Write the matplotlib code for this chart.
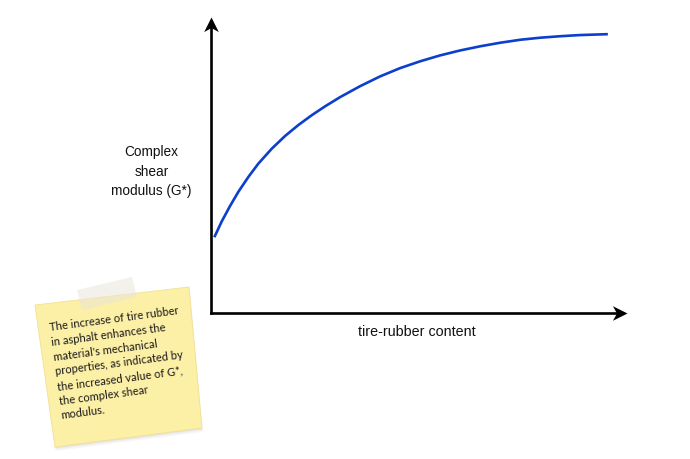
import numpy as np
import matplotlib
matplotlib.use("Agg")
import matplotlib.pyplot as plt
from matplotlib.path import Path
from matplotlib.patches import Polygon

# ---- data (arbitrary units) ----
rubber_content = [0.08, 0.26, 0.46, 0.66, 0.90, 1.14, 1.46, 1.78, 2.10, 2.42,
                  2.74, 3.10, 3.58, 4.06, 4.54, 5.02, 5.50, 5.99, 6.47, 6.95,
                  7.43, 7.91, 8.39, 8.87, 9.54]
shear_modulus = [2.56, 3.10, 3.62, 4.10, 4.60, 5.05, 5.55, 5.98, 6.35, 6.68,
                 6.98, 7.29, 7.66, 7.99, 8.27, 8.50, 8.70, 8.87, 9.01, 9.13,
                 9.23, 9.30, 9.35, 9.39, 9.42]

x_label = "tire-rubber content"
y_label = "Complex\nshear\nmodulus (G*)"
note_text = ("The increase of tire rubber\nin asphalt enhances the\n"
             "material's mechanical\nproperties, as indicated by\n"
             "the increased value of G*,\nthe complex shear\nmodulus.")

W, H = 690, 460
fig = plt.figure(figsize=(W / 100, H / 100), dpi=100)
fig.patch.set_facecolor("white")

# main axes (pixel geometry of the reference)
L, R, B, T = 211, 627, 314, 18
ax = fig.add_axes([L / W, (H - B) / H, (R - L) / W, (B - T) / H])
ax.set_xlim(0, 10)
ax.set_ylim(0, 10)
ax.axis("off")

ax.plot(rubber_content, shear_modulus, color="#0b3fcc", lw=1.9,
        solid_capstyle="butt", solid_joinstyle="round", zorder=3)

# axis lines with arrow heads
lw_axis = 1.9
ax.plot([0, 0], [0, 0.975], transform=ax.transAxes, color="black",
        lw=lw_axis, clip_on=False, solid_capstyle="projecting")
ax.plot([0, 0.98], [0, 0], transform=ax.transAxes, color="black",
        lw=lw_axis, clip_on=False, solid_capstyle="projecting")
up_head = Path([(0, 0), (-0.5, -1), (0, -0.72), (0.5, -1), (0, 0)],
               [Path.MOVETO, Path.LINETO, Path.LINETO, Path.LINETO, Path.CLOSEPOLY])
right_head = Path([(0, 0), (-1, 0.5), (-0.72, 0), (-1, -0.5), (0, 0)],
                  [Path.MOVETO, Path.LINETO, Path.LINETO, Path.LINETO, Path.CLOSEPOLY])
ax.plot([0], [1], marker=up_head, ms=21, color="black", mew=0,
        transform=ax.transAxes, clip_on=False)
ax.plot([1], [0], marker=right_head, ms=21, color="black", mew=0,
        transform=ax.transAxes, clip_on=False)

# labels
fig.text(416.5 / W, 1 - 332 / H, x_label, ha="center", va="center",
         fontsize=10.3, family="Liberation Sans", color="#111111")
fig.text(151.5 / W, 1 - 171.5 / H, y_label, ha="center", va="center",
         fontsize=9.8, family="Liberation Sans", color="#111111",
         multialignment="center", linespacing=1.5)

# sticky note overlay (pixel coordinates)
ov = fig.add_axes([0, 0, 1, 1], zorder=5)
ov.set_xlim(0, W)
ov.set_ylim(H, 0)
ov.axis("off")
ov.patch.set_alpha(0)

note = [(35, 306), (189, 288), (202, 429), (55, 448)]
for dx, dy, a in [(1, 4, 0.05), (0.5, 2.5, 0.07), (0, 1.2, 0.09)]:
    ov.add_patch(Polygon([(x + dx, y + dy) for x, y in note], closed=True,
                         facecolor="#7a7250", edgecolor="none", alpha=a))
ov.add_patch(Polygon(note, closed=True, facecolor="#fcefa6",
                     edgecolor="#f1e296", lw=0.6))
tape = [(77, 291), (132, 278), (137, 298), (82, 311)]
ov.add_patch(Polygon(tape, closed=True, facecolor="#e9e5da",
                     edgecolor="none", alpha=0.5))

ov.text(48.5, 322.5, note_text, rotation=7.5, rotation_mode="anchor",
        ha="left", va="top", fontsize=8.0, family="Lato",
        color="#1a1a1a", linespacing=1.42)

fig.savefig("out.png", dpi=100, facecolor="white")
